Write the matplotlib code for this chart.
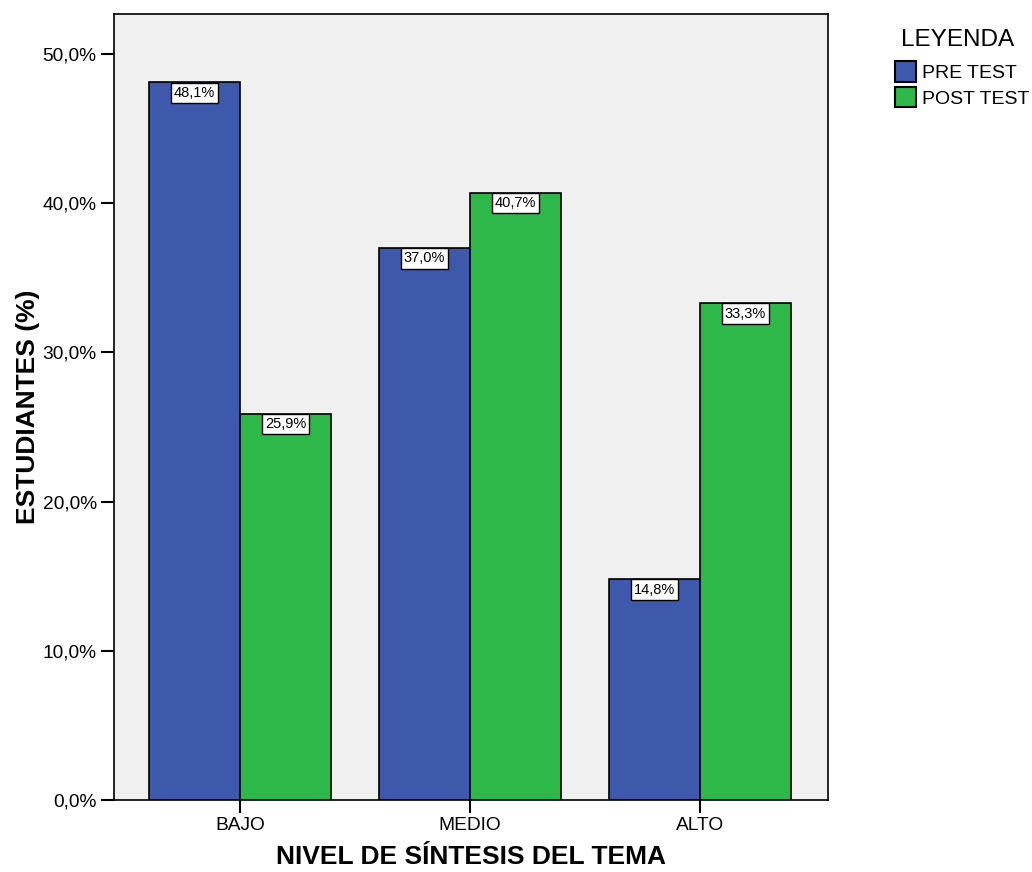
import numpy as np
import matplotlib
matplotlib.use("Agg")
import matplotlib.pyplot as plt
from matplotlib.patches import Patch

categories = ["BAJO", "MEDIO", "ALTO"]
pre_test = [48.1, 37.0, 14.8]
post_test = [25.9, 40.7, 33.3]
series_names = ["PRE TEST", "POST TEST"]
y_ticks = [0, 10, 20, 30, 40, 50]

blue = "#3e58ac"
green = "#2fb84a"

plt.rcParams['font.family'] = ['Liberation Sans', 'DejaVu Sans']

fig = plt.figure(figsize=(10.32, 8.72), dpi=100)
ax = fig.add_axes([114 / 1032, 1 - 800 / 872, 714 / 1032, 786 / 872])
ax.set_facecolor("#f0f0f0")

x = np.arange(len(categories))
w = 91 / 230
b1 = ax.bar(x - w / 2, pre_test, w, color=blue, edgecolor="black", linewidth=1.2, zorder=2)
b2 = ax.bar(x + w / 2, post_test, w, color=green, edgecolor="black", linewidth=1.2, zorder=2)

# etiquetas de valor en caja blanca pegada al borde superior de la barra
for bars, vals in [(b1, pre_test), (b2, post_test)]:
    for bar, v in zip(bars, vals):
        ax.annotate(f"{v:.1f}%".replace(".", ","),
                    (bar.get_x() + bar.get_width() / 2, v),
                    xytext=(0, -2.5), textcoords="offset points",
                    ha="center", va="top", fontsize=10.5, zorder=3,
                    bbox=dict(boxstyle="square,pad=0.22", fc="white", ec="black", lw=1))

ax.set_xlim(-126 / 230, 2 + 128 / 230)
ax.set_ylim(0, 52.68)
ax.set_xticks(x)
ax.set_xticklabels(categories, fontsize=13.8)
ax.set_yticks(y_ticks)
ax.set_yticklabels([f"{t:.1f}%".replace(".", ",") for t in y_ticks], fontsize=13.8)
ax.tick_params(axis="both", direction="out", length=9.5, width=1.5, pad=3)
for s in ax.spines.values():
    s.set_linewidth(1.2)

ax.set_xlabel("NIVEL DE SÍNTESIS DEL TEMA", fontsize=19, fontweight="bold", labelpad=8)
ax.set_ylabel("ESTUDIANTES (%)", fontsize=19, fontweight="bold", labelpad=2)

# leyenda fuera del area de trazado, titulo aparte
fig.text(958 / 1032, 1 - 40 / 872, "LEYENDA", ha="center", va="center", fontsize=17.5)
handles = [Patch(facecolor=blue, edgecolor="black", lw=1.5),
           Patch(facecolor=green, edgecolor="black", lw=1.5)]
leg = fig.legend(handles, series_names, loc="upper left",
                 bbox_to_anchor=(895 / 1032, 1 - 61 / 872), frameon=False,
                 fontsize=14, handlelength=1.1, handleheight=1.25,
                 handletextpad=0.3, labelspacing=0.25, borderaxespad=0, borderpad=0)

fig.savefig("out.png", dpi=100)
